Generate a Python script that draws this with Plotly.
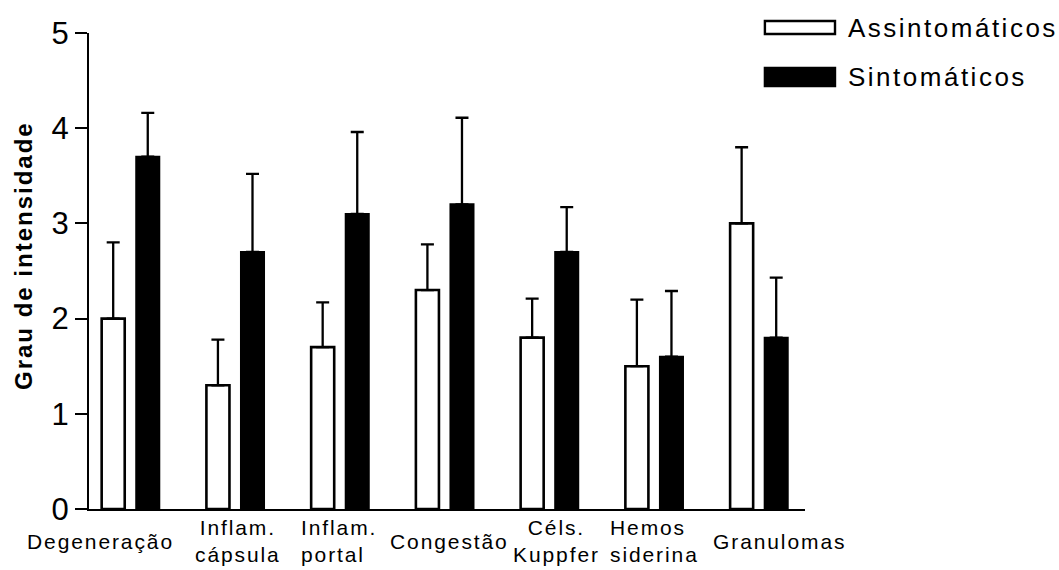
import plotly.graph_objects as go

# Categories (display text, with line breaks)
categories = ["Degeneração", "Inflam.<br>cápsula", "Inflam.<br>portal", "Congestão",
              "Céls.<br>Kuppfer", "Hemos<br>siderina", "Granulomas"]

# Mean intensity grade and upper error (SD) per group
assintomaticos = [2.0, 1.3, 1.7, 2.3, 1.8, 1.5, 3.0]
assintomaticos_err = [0.80, 0.48, 0.47, 0.48, 0.41, 0.70, 0.80]
sintomaticos = [3.7, 2.7, 3.1, 3.2, 2.7, 1.6, 1.8]
sintomaticos_err = [0.46, 0.82, 0.86, 0.91, 0.47, 0.69, 0.63]

y_ticks = [0, 1, 2, 3, 4, 5]

# Layout helpers
FONT = "Liberation Sans, Arial, sans-serif"
BAR_W = 0.22
SHIFT = 0.165
label_shift = [-0.29, 0.03, -0.01, 0.05, 0.07, 0.0, 0.2]
label_align = ["center", "center", "left", "center", "center", "left", "center"]


def spaced(text, px):
    return "<br>".join(f'<span style="letter-spacing:{px}px">{line}</span>'
                       for line in text.split("<br>"))


x = list(range(len(categories)))

fig = go.Figure()
fig.add_trace(go.Bar(
    x=x, y=assintomaticos, width=BAR_W, offset=-SHIFT - BAR_W / 2,
    marker=dict(color="white", line=dict(color="black", width=2.6)),
    error_y=dict(type="data", symmetric=False, array=assintomaticos_err,
                 arrayminus=[0] * len(x), color="black", thickness=2.3, width=6.5),
    name="Assintomáticos", showlegend=False,
))
fig.add_trace(go.Bar(
    x=x, y=sintomaticos, width=BAR_W, offset=SHIFT - BAR_W / 2,
    marker=dict(color="black", line=dict(color="black", width=2)),
    error_y=dict(type="data", symmetric=False, array=sintomaticos_err,
                 arrayminus=[0] * len(x), color="black", thickness=2.3, width=6.5),
    name="Sintomáticos", showlegend=False,
))

# Category labels under the axis
for i, (lab, dx, al) in enumerate(zip(categories, label_shift, label_align)):
    fig.add_annotation(x=i + dx, y=0, xref="x", yref="paper", yshift=-32,
                       xanchor="center", yanchor="middle", align=al,
                       text=spaced(lab, 1.9), showarrow=False,
                       font=dict(family=FONT, size=21, color="black"))

# Y axis title
fig.add_annotation(x=0, y=0.5315, xref="paper", yref="paper", xshift=-66,
                   text=spaced("<b>Grau de intensidade</b>", 2.0), textangle=-90,
                   showarrow=False, xanchor="center", yanchor="middle",
                   font=dict(family=FONT, size=24, color="black"))

# Legend
legend_items = [("Assintomáticos", "white", 1.0252, 0.9979, 1.0105),
                ("Sintomáticos", "black", 0.9265, 0.8887, 0.9076)]
for name, fill, y_top, y_bot, y_txt in legend_items:
    fig.add_shape(type="rect", xref="paper", yref="paper",
                  x0=0.944, x1=1.0419, y0=y_bot, y1=y_top,
                  fillcolor=fill, line=dict(color="black", width=2.4))
    fig.add_annotation(x=1.0573, y=y_txt, xref="paper", yref="paper",
                       xanchor="left", yanchor="middle", showarrow=False,
                       text=spaced(name, 2.5),
                       font=dict(family=FONT, size=26, color="black"))

fig.update_layout(
    width=1059, height=570,
    margin=dict(l=89, r=254, t=33, b=61, pad=0),
    plot_bgcolor="white", paper_bgcolor="white",
    barmode="overlay",
    xaxis=dict(range=[-0.396, 6.44], showgrid=False, zeroline=False,
               showline=True, linecolor="black", linewidth=2.2,
               showticklabels=False, ticks=""),
    yaxis=dict(range=[0, 5], tickvals=y_ticks, showgrid=False, zeroline=False,
               showline=True, linecolor="black", linewidth=2.2,
               ticks="outside", ticklen=12, tickwidth=2.2, tickcolor="black",
               tickfont=dict(family=FONT, size=31, color="black")),
)

fig.write_html("out.html")
